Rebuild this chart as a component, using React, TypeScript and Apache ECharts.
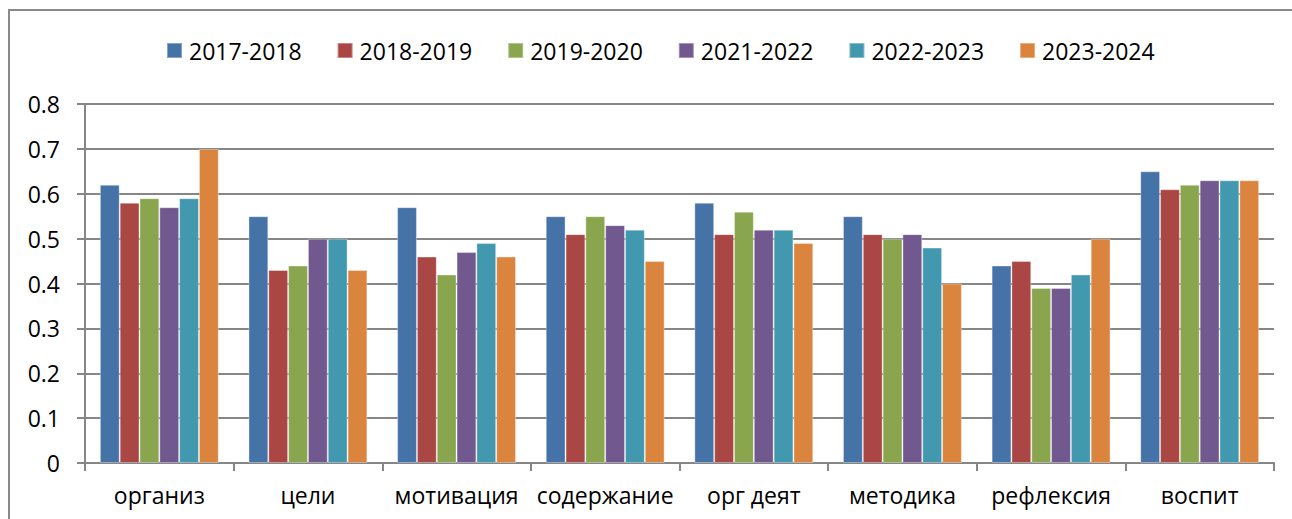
import React, { useEffect, useRef } from "react";
import * as echarts from "echarts";

const categories = ["организ", "цели", "мотивация", "содержание", "орг деят", "методика", "рефлексия", "воспит"];
const seriesNames = ["2017-2018", "2018-2019", "2019-2020", "2021-2022", "2022-2023", "2023-2024"];
const s2017 = [0.62, 0.55, 0.57, 0.55, 0.58, 0.55, 0.44, 0.65];
const s2018 = [0.58, 0.43, 0.46, 0.51, 0.51, 0.51, 0.45, 0.61];
const s2019 = [0.59, 0.44, 0.42, 0.55, 0.56, 0.50, 0.39, 0.62];
const s2021 = [0.57, 0.50, 0.47, 0.53, 0.52, 0.51, 0.39, 0.63];
const s2022 = [0.59, 0.50, 0.49, 0.52, 0.52, 0.48, 0.42, 0.63];
const s2023 = [0.70, 0.43, 0.46, 0.45, 0.49, 0.40, 0.50, 0.63];
const seriesData = [s2017, s2018, s2019, s2021, s2022, s2023];
const colors = ["#4572A7", "#AA4643", "#89A54E", "#71588F", "#4198AF", "#DB843D"];

const FONT = "'Open Sans', 'Noto Sans', sans-serif";

export default function App() {
  const ref = useRef<HTMLDivElement>(null);
  useEffect(() => {
    if (!ref.current) return;
    const chart = echarts.init(ref.current, null, { renderer: "svg" });
    chart.setOption({
      animation: false,
      color: colors,
      textStyle: { fontFamily: FONT, color: "#000" },
      graphic: [
        {
          type: "rect",
          shape: { x: 9, y: 10, width: 1400, height: 600 },
          style: { fill: "none", stroke: "#8a8a8a", lineWidth: 2 },
          silent: true,
        },
      ],
      legend: {
        top: 34,
        left: 161,
        padding: 5,
        itemWidth: 15,
        itemHeight: 15,
        itemGap: 35,
        icon: "rect",
        textStyle: { fontFamily: FONT, fontSize: 23, color: "#000", lineHeight: 23, padding: [0, 0, 0, 2] },
        data: seriesNames,
      },
      grid: { left: 85, right: 18, top: 104, bottom: 56, containLabel: false },
      xAxis: {
        type: "category",
        data: categories,
        axisLine: { lineStyle: { color: "#868686", width: 2 } },
        axisTick: { show: true, length: 8, lineStyle: { color: "#868686", width: 2 } },
        axisLabel: { fontFamily: FONT, fontSize: 23, color: "#000", margin: 20, interval: 0 },
      },
      yAxis: {
        type: "value",
        min: 0,
        max: 0.8,
        interval: 0.1,
        axisLine: { show: true, lineStyle: { color: "#868686", width: 2 } },
        axisTick: { show: true, length: 8, lineStyle: { color: "#868686", width: 2 } },
        splitLine: { lineStyle: { color: "#868686", width: 2 } },
        axisLabel: {
          fontFamily: FONT,
          fontSize: 23,
          color: "#000",
          margin: 25,
          formatter: (v: number) => (Math.round(v * 10) / 10).toString(),
        },
      },
      series: seriesNames.map((name, i) => ({
        name,
        type: "bar",
        data: seriesData[i],
        barGap: "0%",
        barCategoryGap: "20%",
        itemStyle: { color: colors[i], borderColor: "rgba(255,255,255,0.35)", borderWidth: 1 },
      })),
    });
    return () => chart.dispose();
  }, []);
  return (
    <div
      ref={ref}
      style={{ position: "absolute", left: 0, top: 0, width: 1292, height: 519, background: "#fff" }}
    />
  );
}
